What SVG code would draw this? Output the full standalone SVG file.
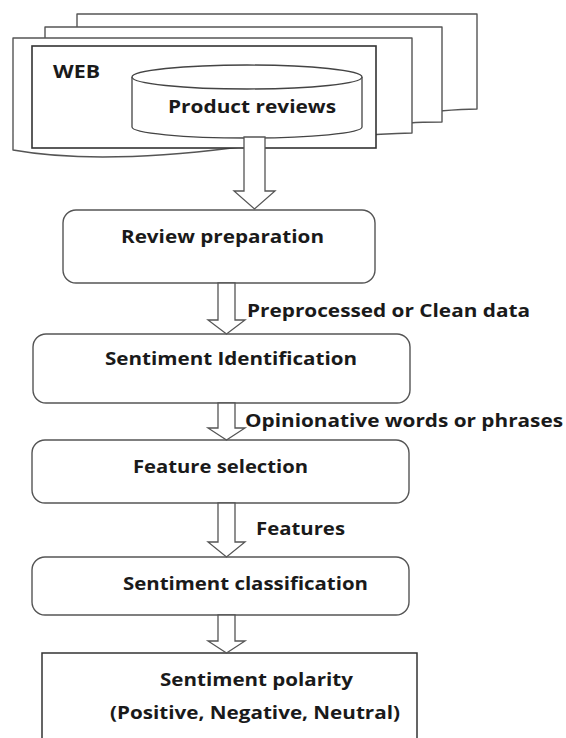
<svg xmlns="http://www.w3.org/2000/svg" width="566" height="738" viewBox="0 0 566 738">
  <style>
    .doc { fill: #fff; stroke: #555; stroke-width: 1.4; stroke-linejoin: round; }
    .frame { fill: #fff; stroke: #333; stroke-width: 1.6; }
    .box { fill: #fff; stroke: #555; stroke-width: 1.4; }
    .sq { fill: #fff; stroke: #333; stroke-width: 1.5; }
    .cyl { fill: #fff; stroke: #444; stroke-width: 1.3; }
    .arrow { fill: #fff; stroke: #555; stroke-width: 1.3; stroke-linejoin: miter; }
    text { font-family: "Open Sans", "Liberation Sans", sans-serif; font-weight: 700; font-size: 18.5px; fill: #1a1a1a; }
  </style>

  <!-- stacked web documents -->
  <g id="web-source">
    <path class="doc" d="M77,14 H477 V109 C465,109 452,110 440,111 L77,111 Z"/>
    <path class="doc" d="M45,27 H442 V122 C430,122 420,122 410,123 L45,123 Z"/>
    <path class="doc" d="M13,38 H412 V133 C360,134 300,140 232,148 C160,157 80,162 13,150 Z"/>
    <rect class="frame" x="32" y="46" width="344" height="102"/>
    <text x="53" y="78" textLength="47" lengthAdjust="spacingAndGlyphs">WEB</text>
  </g>

  <!-- review store -->
  <g id="product-reviews">
    <path class="cyl" d="M132,77 V127 A115,11 0 0 0 362,127 V77 A115,12 0 0 0 132,77 Z"/>
    <path class="cyl" fill="none" d="M132,77 A115,12 0 0 0 362,77"/>
    <text x="168" y="113" textLength="168" lengthAdjust="spacingAndGlyphs">Product reviews</text>
  </g>

  <g id="review-preparation">
    <rect class="box" x="63" y="210" width="312" height="73" rx="13"/>
    <text x="121" y="243" textLength="203" lengthAdjust="spacingAndGlyphs">Review preparation</text>
  </g>

  <g id="sentiment-identification">
    <rect class="box" x="33" y="334" width="377" height="69" rx="13"/>
    <text x="105" y="365" textLength="252" lengthAdjust="spacingAndGlyphs">Sentiment Identification</text>
  </g>

  <g id="feature-selection">
    <rect class="box" x="32" y="440" width="377" height="63" rx="13"/>
    <text x="133" y="473" textLength="175" lengthAdjust="spacingAndGlyphs">Feature selection</text>
  </g>

  <g id="sentiment-classification">
    <rect class="box" x="32" y="557" width="377" height="58" rx="13"/>
    <text x="123" y="590" textLength="245" lengthAdjust="spacingAndGlyphs">Sentiment classification</text>
  </g>

  <g id="sentiment-polarity">
    <rect class="sq" x="42" y="653" width="375" height="100"/>
    <text x="160" y="686" textLength="193" lengthAdjust="spacingAndGlyphs">Sentiment polarity</text>
    <text x="110" y="719" textLength="290" lengthAdjust="spacingAndGlyphs">(Positive, Negative, Neutral)</text>
  </g>

  <!-- hollow block arrows between stages -->
  <g id="connectors">
    <polygon class="arrow" points="244,137 265,137 265,191 275,191 254.5,209 234,191 244,191"/>
    <polygon class="arrow" points="218,283 235,283 235,320 245,320 226.5,334 208,320 218,320"/>
    <polygon class="arrow" points="218,403 235,403 235,428 245,428 226.5,440 208,428 218,428"/>
    <polygon class="arrow" points="218,503 235,503 235,542 245,542 226.5,557 208,542 218,542"/>
    <polygon class="arrow" points="218,615 235,615 235,641 245,641 226.5,653 208,641 218,641"/>
  </g>

  <g id="connector-labels">
    <text x="247" y="317" textLength="283" lengthAdjust="spacingAndGlyphs">Preprocessed or Clean data</text>
    <text x="245" y="427" textLength="318" lengthAdjust="spacingAndGlyphs">Opinionative words or phrases</text>
    <text x="256" y="535" textLength="89" lengthAdjust="spacingAndGlyphs">Features</text>
  </g>
</svg>
